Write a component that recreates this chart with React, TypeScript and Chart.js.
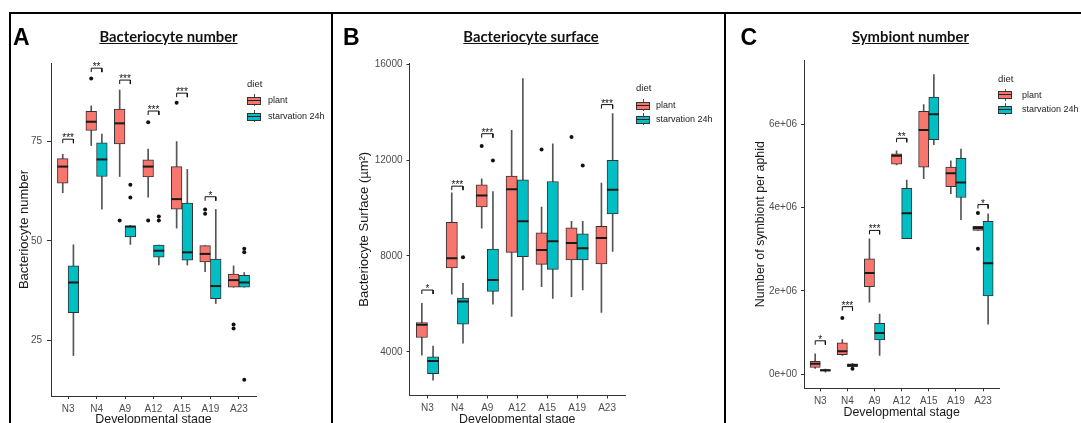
import React, { useEffect, useRef } from 'react';
import { Chart, registerables } from 'chart.js';

Chart.register(...registerables);
Chart.defaults.font.family = '"Liberation Sans", Arial, sans-serif';

// ---------- data ----------
const stages = ['N3', 'N4', 'A9', 'A12', 'A15', 'A19', 'A23'];
const diets = ['plant', 'starvation 24h'];
const dietColors = ['#F8766D', '#00BFC4'];

// each row: [lower whisker, Q1, median, Q3, upper whisker]
// Panel A – Bacteriocyte number
const numberPlant = [
  [62.1, 64.5, 68.7, 70.7, 71.8],
  [74.0, 77.8, 80.0, 82.6, 84.0],
  [66.2, 74.4, 79.6, 83.2, 88.0],
  [61.0, 66.1, 68.7, 70.4, 73.1],
  [53.2, 58.0, 60.5, 68.7, 75.0],
  [42.2, 44.7, 46.7, 48.8, 48.8],
  [38.3, 38.3, 40.1, 41.6, 43.7],
];
const numberStarv = [
  [21.1, 31.9, 39.5, 43.7, 49.0],
  [58.0, 66.2, 70.5, 74.7, 76.9],
  [49.1, 51.0, 53.6, 53.7, 53.9],
  [43.9, 45.9, 47.5, 48.9, 48.9],
  [43.9, 45.1, 47.1, 59.5, 68.0],
  [34.2, 35.4, 38.6, 45.4, 57.9],
  [38.3, 38.3, 39.5, 41.3, 42.0],
];
// [stage index, value]
const numberPlantOutliers = [[1, 90.9], [2, 55.1], [3, 79.9], [3, 55.1], [4, 84.8], [5, 57.9], [5, 56.8], [6, 28.9], [6, 27.9]];
const numberStarvOutliers = [[2, 64.1], [2, 60.9], [3, 56.1], [3, 55.1], [6, 48.0], [6, 47.1], [6, 15.0]];
// [stage index, bracket height, label]
const numberSignif: [number, number, string][] = [[0, 75.6, '***'], [1, 93.5, '**'], [2, 90.5, '***'], [3, 82.7, '***'], [4, 87.2, '***'], [5, 61.1, '*']];
const numberTicks = [25, 50, 75];

// Panel B – Bacteriocyte surface
const surfacePlant = [
  [3861, 4600, 5129, 5226, 6021],
  [6411, 7498, 7903, 9408, 10634],
  [9157, 10049, 10523, 10969, 11220],
  [5478, 8153, 10788, 11331, 13240],
  [6718, 7652, 8251, 8962, 10035],
  [6300, 7833, 8544, 9171, 9450],
  [5645, 7666, 8753, 9240, 11038],
];
const surfaceStarv = [
  [2816, 3094, 3624, 3791, 4237],
  [4363, 5157, 6105, 6244, 6857],
  [5993, 6523, 6997, 8293, 10690],
  [6579, 7972, 9450, 11178, 15401],
  [6230, 7443, 8613, 11108, 12683],
  [6579, 7833, 8321, 8920, 9450],
  [8195, 9756, 10760, 11986, 13937],
];
const surfacePlantOutliers = [[2, 12585], [4, 12446], [5, 12962]];
const surfaceStarvOutliers = [[1, 7944], [2, 11986], [5, 11777]];
const surfaceSignif: [number, number, string][] = [[0, 6579, '*'], [1, 10913, '***'], [2, 13101, '***'], [6, 14314, '***']];
const surfaceTicks = [4000, 8000, 12000, 16000];

// Panel C – Symbiont number
const symbiontPlant = [
  [0.14e6, 0.16e6, 0.25e6, 0.31e6, 0.49e6],
  [0.45e6, 0.47e6, 0.55e6, 0.75e6, 0.83e6],
  [1.73e6, 2.10e6, 2.43e6, 2.77e6, 3.25e6],
  [5.02e6, 5.04e6, 5.24e6, 5.29e6, 5.36e6],
  [4.69e6, 4.97e6, 5.86e6, 6.31e6, 6.47e6],
  [4.33e6, 4.50e6, 4.82e6, 4.97e6, 5.12e6],
  [3.45e6, 3.45e6, 3.51e6, 3.55e6, 3.55e6],
];
const symbiontStarv = [
  [0.05e6, 0.07e6, 0.095e6, 0.11e6, 0.12e6],
  [0.18e6, 0.18e6, 0.22e6, 0.25e6, 0.26e6],
  [0.45e6, 0.82e6, 0.99e6, 1.22e6, 1.44e6],
  [3.25e6, 3.25e6, 3.86e6, 4.46e6, 4.66e6],
  [5.51e6, 5.63e6, 6.24e6, 6.65e6, 7.19e6],
  [3.71e6, 4.24e6, 4.60e6, 5.18e6, 5.40e6],
  [1.20e6, 1.88e6, 2.66e6, 3.67e6, 3.85e6],
];
const symbiontPlantOutliers = [[1, 1.35e6], [6, 3.87e6], [6, 3.01e6]];
const symbiontStarvOutliers = [[1, 0.13e6]];
const symbiontSignif: [number, number, string][] = [[0, 0.80e6, '*'], [1, 1.62e6, '***'], [2, 3.45e6, '***'], [3, 5.66e6, '**'], [6, 4.07e6, '*']];
const symbiontTicks = [0, 2e6, 4e6, 6e6];

// ---------- styling / layout ----------
const DODGE = 0.1875;
const LINE = '#333333';
const TICK_TXT = '#4D4D4D';

type Box = { left: number; top: number; width: number; height: number };
type Area = { left: number; top: number; right: number; bottom: number };
type PanelCfg = {
  letter: string; title: string; titleX: number;
  plant: number[][]; starv: number[][];
  plantOut: number[][]; starvOut: number[][];
  signif: [number, number, string][];
  yTicks: number[]; yMin: number; yMax: number;
  fmt: (v: number) => string;
  yTitle: string; yTitleSize: number; yTitlePad: number;
  xTitleSize: number; xTitlePad: number;
  yTickLen: number; yTickPad: number;
  canvas: Box; area: Area;
  letterX: number;
  legend: { x: number; dietY: number; rowY: number[]; textX: number };
};

const panels: PanelCfg[] = [
  {
    letter: 'A', title: 'Bacteriocyte number', titleX: 168.5, letterX: 13,
    plant: numberPlant, starv: numberStarv, plantOut: numberPlantOutliers, starvOut: numberStarvOutliers,
    signif: numberSignif, yTicks: numberTicks, yMin: 10.9, yMax: 94.8, fmt: (v) => String(v),
    yTitle: 'Bacteriocyte number', yTitleSize: 13, yTitlePad: 6.2, xTitleSize: 12.4, xTitlePad: 3.2,
    yTickLen: 4, yTickPad: 5,
    canvas: { left: 10, top: 50, width: 321, height: 380 },
    area: { left: 51, top: 63, right: 256, bottom: 396 },
    legend: { x: 247, dietY: 84, rowY: [100, 116], textX: 268 },
  },
  {
    letter: 'B', title: 'Bacteriocyte surface', titleX: 531, letterX: 343,
    plant: surfacePlant, starv: surfaceStarv, plantOut: surfacePlantOutliers, starvOut: surfaceStarvOutliers,
    signif: surfaceSignif, yTicks: surfaceTicks, yMin: 2180, yMax: 16050, fmt: (v) => String(v),
    yTitle: 'Bacteriocyte Surface (µm²)', yTitleSize: 13, yTitlePad: 23.2, xTitleSize: 12.4, xTitlePad: 3.2,
    yTickLen: 3, yTickPad: 4,
    canvas: { left: 333, top: 50, width: 391, height: 380 },
    area: { left: 409.5, top: 63, right: 625, bottom: 395.5 },
    legend: { x: 636, dietY: 88, rowY: [105, 119], textX: 656 },
  },
  {
    letter: 'C', title: 'Symbiont number', titleX: 910.5, letterX: 740.5,
    plant: symbiontPlant, starv: symbiontStarv, plantOut: symbiontPlantOutliers, starvOut: symbiontStarvOutliers,
    signif: symbiontSignif, yTicks: symbiontTicks, yMin: -0.34e6, yMax: 7.54e6,
    fmt: (v) => (v === 0 ? '0e+00' : `${Math.round(v / 1e6)}e+06`),
    yTitle: 'Number of symbiont per aphid', yTitleSize: 12.4, yTitlePad: 26, xTitleSize: 12.4, xTitlePad: 9.6,
    yTickLen: 3, yTickPad: 4,
    canvas: { left: 727, top: 50, width: 354, height: 380 },
    area: { left: 804, top: 58.3, right: 999.3, bottom: 388.3 },
    legend: { x: 998, dietY: 79, rowY: [94.5, 109], textX: 1022 },
  },
];

const halfBoxPx = (chart: any) => {
  const s = chart.scales.x;
  return Math.abs(s.getPixelForValue(DODGE) - s.getPixelForValue(0));
};

const starsPlugin = {
  id: 'sigStars',
  afterDatasetsDraw(chart: any, _args: any, opts: any) {
    const { ctx, scales } = chart;
    ctx.save();
    ctx.fillStyle = '#111';
    ctx.font = '10px "Liberation Sans", Arial, sans-serif';
    ctx.textAlign = 'center';
    ctx.textBaseline = 'alphabetic';
    for (const [i, v, s] of opts.items || []) {
      ctx.fillText(s, scales.x.getPixelForValue(i), scales.y.getPixelForValue(v) + 2);
    }
    ctx.restore();
  },
};

function buildConfig(p: PanelCfg): any {
  const tip = (p.yMax - p.yMin) * 0.012;
  const boxDs = (rows: number[][], off: number, color: string, label: string) => ({
    type: 'bar', label,
    data: rows.map((r, i) => ({ x: i + off, y: [r[1], r[3]] })),
    backgroundColor: color, borderColor: LINE, borderWidth: 1, borderSkipped: false,
    grouped: false, categoryPercentage: 1, barPercentage: 1, order: 3,
  });
  const whiskerDs = (rows: number[][], off: number) => ({
    type: 'bar',
    data: rows.map((r, i) => ({ x: i + off, y: [r[0], r[4]] })),
    backgroundColor: '#555555', borderWidth: 0,
    grouped: false, categoryPercentage: 1, barPercentage: 1, maxBarThickness: 1, order: 4,
  });
  const medianDs = (rows: number[][], off: number) => ({
    type: 'scatter',
    data: rows.map((r, i) => ({ x: i + off, y: r[2] })),
    pointStyle: 'line', pointBorderColor: '#1a1a1a', pointBorderWidth: 2,
    pointRadius: (c: any) => halfBoxPx(c.chart),
    order: 2,
  });
  const outlierDs = (pts: number[][], off: number) => ({
    type: 'scatter',
    data: pts.map(([i, v]) => ({ x: i + off, y: v })),
    pointRadius: 2, pointBackgroundColor: '#111', pointBorderWidth: 0,
    order: 1,
  });
  const bracketDs = {
    type: 'line',
    data: p.signif.flatMap(([i, v]) => [
      { x: i - DODGE, y: v - tip }, { x: i - DODGE, y: v },
      { x: i + DODGE, y: v }, { x: i + DODGE, y: v - tip },
      { x: i + DODGE + 0.01, y: null },
    ]),
    borderColor: '#111', borderWidth: 1, pointRadius: 0, fill: false, tension: 0, spanGaps: false,
    order: 0,
  };
  const cv = p.canvas, ar = p.area;
  return {
    type: 'bar',
    data: {
      datasets: [
        whiskerDs(p.plant, -DODGE), whiskerDs(p.starv, DODGE),
        boxDs(p.plant, -DODGE, dietColors[0], diets[0]), boxDs(p.starv, DODGE, dietColors[1], diets[1]),
        medianDs(p.plant, -DODGE), medianDs(p.starv, DODGE),
        outlierDs(p.plantOut, -DODGE), outlierDs(p.starvOut, DODGE),
        bracketDs,
      ],
    },
    plugins: [starsPlugin],
    options: {
      responsive: false, animation: false, events: [],
      layout: { padding: { left: 0, top: ar.top - cv.top, right: cv.left + cv.width - ar.right, bottom: 0 } },
      plugins: {
        legend: { display: false }, tooltip: { enabled: false },
        sigStars: { items: p.signif },
      },
      scales: {
        x: {
          type: 'linear', min: -0.6, max: 6.6, offset: false,
          afterBuildTicks: (s: any) => { s.ticks = stages.map((_, i) => ({ value: i })); },
          afterFit: (s: any) => { s.height = cv.top + cv.height - ar.bottom; },
          ticks: {
            callback: (v: number) => stages[v], color: TICK_TXT, font: { size: 10 },
            padding: 4, autoSkip: false, maxRotation: 0,
          },
          grid: { drawOnChartArea: false, drawTicks: true, tickLength: 3, color: LINE, offset: false },
          border: { display: true, color: LINE, width: 1 },
          title: {
            display: true, text: 'Developmental stage', color: '#1a1a1a',
            font: { size: p.xTitleSize }, padding: { top: 0, bottom: p.xTitlePad },
          },
        },
        y: {
          type: 'linear', min: p.yMin, max: p.yMax, beginAtZero: false,
          afterBuildTicks: (s: any) => { s.ticks = p.yTicks.map((v) => ({ value: v })); },
          afterFit: (s: any) => { s.width = ar.left - cv.left; },
          ticks: { callback: (v: number) => p.fmt(v), color: TICK_TXT, font: { size: 10 }, padding: p.yTickPad },
          grid: { drawOnChartArea: false, drawTicks: true, tickLength: p.yTickLen, color: LINE },
          border: { display: true, color: LINE, width: 1 },
          title: {
            display: true, text: p.yTitle, color: '#1a1a1a',
            font: { size: p.yTitleSize }, padding: { top: p.yTitlePad, bottom: 0 },
          },
        },
      },
    },
  };
}

function BoxPanel({ p }: { p: PanelCfg }) {
  const ref = useRef<HTMLCanvasElement>(null);
  useEffect(() => {
    const chart = new Chart(ref.current as HTMLCanvasElement, buildConfig(p));
    return () => chart.destroy();
  }, [p]);
  const c = p.canvas;
  return (
    <canvas
      ref={ref}
      width={c.width}
      height={c.height}
      style={{ position: 'absolute', left: c.left, top: c.top, width: c.width, height: c.height }}
    />
  );
}

function LegendKey({ x, cy, color }: { x: number; cy: number; color: string }) {
  return (
    <div style={{ position: 'absolute', left: x, top: cy - 6, width: 14, height: 12 }}>
      <div style={{ position: 'absolute', left: 6.5, top: 0, width: 1, height: 12, background: '#555' }} />
      <div style={{ position: 'absolute', left: 0, top: 2.5, width: 12, height: 6, background: color, border: `1px solid ${LINE}` }} />
      <div style={{ position: 'absolute', left: 0, top: 5.5, width: 14, height: 1, background: '#222' }} />
    </div>
  );
}

function PanelText({ p }: { p: PanelCfg }) {
  const L = p.legend;
  const txt = (s: string, x: number, cy: number, size: number) => (
    <div style={{ position: 'absolute', left: x, top: cy - 7, height: 14, lineHeight: '14px', fontSize: size, color: '#222', whiteSpace: 'nowrap', fontFamily: '"Liberation Sans", Arial, sans-serif' }}>{s}</div>
  );
  return (
    <>
      <div style={{ position: 'absolute', left: p.letterX, top: 24, fontFamily: '"Liberation Sans", Arial, sans-serif', fontWeight: 700, fontSize: 23, lineHeight: 'normal', color: '#000' }}>{p.letter}</div>
      <div style={{ position: 'absolute', left: p.titleX, top: 27.5, transform: 'translateX(-50%)', fontFamily: 'Lato, "Open Sans", sans-serif', fontWeight: 700, fontSize: 14.8, lineHeight: '17.6px', color: '#111', textDecoration: 'underline', whiteSpace: 'nowrap' }}>{p.title}</div>
      {txt('diet', L.x, L.dietY, 9.5)}
      {diets.map((d, k) => (
        <React.Fragment key={d}>
          <LegendKey x={L.x} cy={L.rowY[k]} color={dietColors[k]} />
          {txt(d, L.textX, L.rowY[k], 9)}
        </React.Fragment>
      ))}
    </>
  );
}

export default function App() {
  return (
    <div style={{ position: 'absolute', left: 0, top: 0, width: 1081, height: 423, overflow: 'hidden', background: '#fff' }}>
      {panels.map((p) => <BoxPanel key={p.letter} p={p} />)}
      {panels.map((p) => <PanelText key={'t' + p.letter} p={p} />)}
      <div style={{ position: 'absolute', left: 9, top: 12, width: 1072, height: 2, background: '#000' }} />
      <div style={{ position: 'absolute', left: 9, top: 12, width: 2, height: 411, background: '#000' }} />
      <div style={{ position: 'absolute', left: 331, top: 12, width: 2, height: 411, background: '#000' }} />
      <div style={{ position: 'absolute', left: 724, top: 12, width: 2, height: 411, background: '#000' }} />
    </div>
  );
}
